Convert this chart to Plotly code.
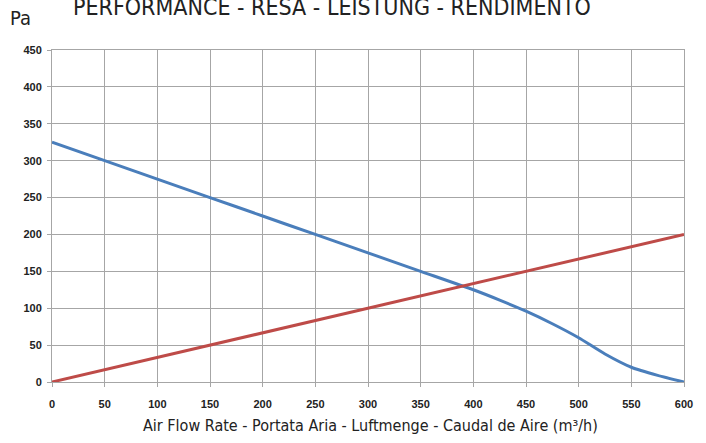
import plotly.graph_objects as go

flow_blue = [0, 50, 100, 150, 200, 250, 300, 350, 400, 425, 450, 475, 500, 525, 550, 575, 600]
pressure_blue = [325, 300, 275, 250, 225, 200, 175, 150, 125, 111, 96, 79, 60, 38, 20, 9, 0]

flow_red = [0, 50, 100, 150, 200, 250, 300, 350, 400, 450, 500, 550, 600]
pressure_red = [0, 16.7, 33.3, 50, 66.7, 83.3, 100, 116.7, 133.3, 150, 166.7, 183.3, 200]

x_ticks = list(range(0, 601, 50))
y_ticks = list(range(0, 451, 50))

W, H = 706, 443
L, R, T, B = 52, 22, 50, 61
pw, ph = W - L - R, H - T - B

def px(xpix):
    return (xpix - L) / pw

def py(ypix):
    return (H - B - ypix) / ph

fig = go.Figure()
fig.add_trace(go.Scatter(x=flow_blue, y=pressure_blue, mode="lines",
                         line=dict(color="#4A7EBB", width=3, shape="spline", smoothing=0.6),
                         showlegend=False, hoverinfo="skip"))
fig.add_trace(go.Scatter(x=flow_red, y=pressure_red, mode="lines",
                         line=dict(color="#BE4B48", width=3),
                         showlegend=False, hoverinfo="skip"))

tickfont = dict(family="Liberation Sans, Arial, sans-serif", size=11, color="#222222", weight="bold")
narrow = "DejaVu Sans Condensed, Liberation Sans Narrow, sans-serif"

fig.update_layout(
    width=W, height=H,
    margin=dict(l=L, r=R, t=T, b=B),
    paper_bgcolor="white", plot_bgcolor="white",
    xaxis=dict(range=[0, 600], tickvals=x_ticks, showgrid=True, gridcolor="#A6A6A6", gridwidth=1,
               zeroline=False, showline=True, linecolor="#A6A6A6", linewidth=1, mirror=True,
               ticks="outside", ticklen=4, tickcolor="#A6A6A6", tickfont=tickfont,
               ticklabelstandoff=8),
    yaxis=dict(range=[0, 450], tickvals=y_ticks, showgrid=True, gridcolor="#A6A6A6", gridwidth=1,
               zeroline=False, showline=True, linecolor="#A6A6A6", linewidth=1, mirror=True,
               ticks="outside", ticklen=4, tickcolor="#A6A6A6", tickfont=tickfont,
               ticklabelstandoff=3),
    annotations=[
        dict(text="Pa", xref="paper", yref="paper", x=px(8), y=py(18), xanchor="left", yanchor="middle",
             showarrow=False, font=dict(family=narrow, size=20, color="#222222")),
        dict(text="PERFORMANCE - RESA - LEISTUNG - RENDIMENTO", xref="paper", yref="paper",
             x=px(332), y=py(12), xanchor="center", yanchor="bottom", yshift=-10,
             showarrow=False, font=dict(family=narrow, size=23, color="#222222")),
        dict(text="Air Flow Rate - Portata Aria - Luftmenge - Caudal de Aire (m³/h)",
             xref="paper", yref="paper", x=px(370), y=py(425), xanchor="center", yanchor="middle",
             showarrow=False, font=dict(family=narrow, size=16, color="#222222")),
    ],
)

fig.write_html("out.html", config={"displayModeBar": False},
               post_script="document.body.style.margin='0';")
